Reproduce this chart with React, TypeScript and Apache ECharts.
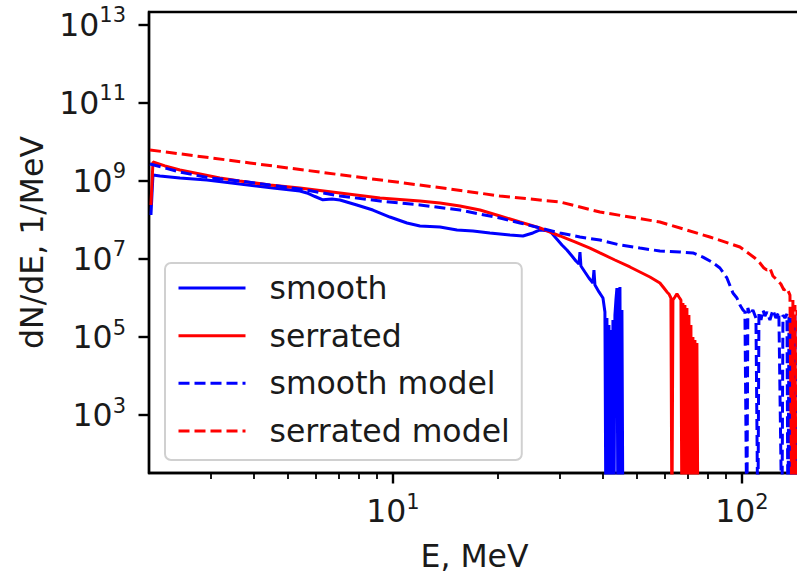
import React, { useEffect, useRef } from 'react';
import * as echarts from 'echarts';

const FONT = 'DejaVu Sans';
const TEXT = '#1a1a1a';

// E, MeV (x) and dN/dE, 1/MeV (y); a value of 1 marks an empty bin that falls below the axis
const smoothE = [2.026, 2.053, 2.15, 2.453, 2.93, 3.64, 4.53, 5.41, 5.67, 5.98, 6.30, 6.69, 7.05, 7.88, 8.76, 9.80, 10.97, 11.95, 13.64, 15.26, 16.96, 18.96, 21.64, 23.58, 25.18, 26.38, 28.18, 29.31, 30.50, 31.52, 32.58, 33.45, 34.12, 34.35, 34.57, 35.49, 36.44, 37.42, 37.67, 37.92, 38.94, 39.98, 40.50, 40.77, 41.04, 41.31, 41.59, 41.86, 42.14, 42.42, 42.70, 42.98, 43.26, 43.55, 43.84, 44.13, 44.42, 44.72, 45.01, 45.31, 45.61];
const smoothN = [1.34e8, 1.43e9, 1.34e9, 1.19e9, 1.06e9, 8.38e8, 6.62e8, 5.55e8, 4.92e8, 4.0e8, 3.3e8, 3.45e8, 3.26e8, 2.43e8, 1.80e8, 1.19e8, 8.38e7, 7.02e7, 6.62e7, 5.55e7, 5.22e7, 4.64e7, 4.12e7, 3.89e7, 4.64e7, 5.55e7, 5.22e7, 3.45e7, 2.29e7, 1.70e7, 1.19e7, 8.89e6, 7.44e6, 1.51e7, 6.62e6, 4.64e6, 3.26e6, 2.43e6, 5.22e6, 2.15e6, 1.43e6, 1.0e6, 4.38e5, 1, 3.07e5, 1, 2.03e5, 1, 1.51e5, 1, 2.73e5, 1, 3.66e5, 8.89e5, 1.80e6, 1, 8.89e5, 1.91e6, 1, 4.92e5, 1];

const serratedE = [2.026, 2.053, 2.222, 2.453, 2.80, 3.19, 3.64, 4.44, 5.41, 7.05, 9.18, 11.95, 13.64, 15.56, 17.76, 20.26, 23.12, 26.38, 28.18, 30.10, 33.23, 36.69, 39.19, 43.26, 47.77, 51.03, 54.50, 56.33, 58.21, 59.77, 60.97, 61.78, 62.60, 63.01, 63.43, 64.27, 65.13, 66.00, 66.87, 67.31, 67.76, 68.21, 68.66, 69.11, 69.57, 70.03, 70.49, 70.96, 71.43, 71.90, 72.38, 72.86, 73.34, 73.82, 74.31, 74.80];
const serratedN = [2.43e8, 3.07e9, 2.43e9, 1.91e9, 1.51e9, 1.19e9, 1.0e9, 7.89e8, 6.62e8, 4.92e8, 3.66e8, 3.07e8, 2.73e8, 2.29e8, 1.80e8, 1.27e8, 8.89e7, 6.24e7, 4.92e7, 3.89e7, 2.73e7, 1.91e7, 1.43e7, 9.42e6, 6.24e6, 4.64e6, 3.45e6, 2.90e6, 2.43e6, 1.80e6, 1.43e6, 1.27e6, 1.0e6, 1, 8.89e5, 1.06e6, 1.27e6, 1.06e6, 8.89e5, 1, 7.44e5, 1, 6.62e5, 1, 5.55e5, 1, 3.66e5, 1, 2.03e5, 1, 1.0e5, 1, 8.38e4, 1, 7.02e4, 1];

const smoothModelE = [2.013, 2.453, 2.99, 3.64, 4.44, 5.41, 7.05, 9.18, 11.95, 15.56, 20.26, 23.12, 26.38, 30.10, 34.35, 39.19, 44.72, 51.03, 58.21, 66.42, 72.38, 77.31, 82.0, 86.50, 90.58, 94.24, 96.76, 98.70, 100.7, 102.0, 103.3, 104.0, 105.4, 107.5, 109.7, 111.1, 111.9, 113.4, 114.9, 116.4, 117.9, 120.3, 122.7, 125.1, 127.6, 130.2, 131.1, 132.8, 134.6, 135.5, 136.4, 138.2, 139.1, 140.9, 141.9, 143.8];
const smoothModelN = [2.73e9, 1.70e9, 1.19e9, 1.0e9, 7.89e8, 6.24e8, 4.12e8, 3.07e8, 2.43e8, 1.80e8, 1.12e8, 8.38e7, 6.24e7, 4.64e7, 3.66e7, 3.07e7, 2.29e7, 1.91e7, 1.60e7, 1.51e7, 1.43e7, 1.12e7, 8.37e6, 5.88e6, 3.26e6, 1.34e6, 1.0e6, 6.62e5, 4.92e5, 4.38e5, 1, 5.55e5, 3.66e5, 4.92e5, 3.07e5, 1, 4.38e5, 2.73e5, 4.92e5, 3.45e5, 4.38e5, 2.73e5, 4.92e5, 3.07e5, 4.38e5, 1, 3.66e5, 3.07e5, 3.89e5, 1, 3.45e5, 1, 3.07e5, 1, 3.66e5, 1];

const serratedModelE = [2.013, 3.89, 7.53, 14.57, 20.26, 30.10, 39.19, 58.21, 80.95, 98.70, 103.3, 108.9, 112.6, 115.6, 117.9, 120.3, 122.7, 126.0, 129.3, 131.9, 134.6, 137.3, 139.1, 140.0, 140.9, 141.9, 142.8, 143.8];
const serratedModelN = [6.24e9, 2.90e9, 1.34e9, 6.24e8, 4.12e8, 2.90e8, 1.60e8, 8.89e7, 3.66e7, 2.03e7, 1.51e7, 1.06e7, 7.89e6, 5.88e6, 5.22e6, 5.88e6, 3.66e6, 2.90e6, 2.29e6, 1.60e6, 1.80e6, 1.19e6, 1, 8.89e5, 1, 6.62e5, 1, 4.92e5];

const seriesNames = ['smooth', 'serrated', 'smooth model', 'serrated model'];

const X_MIN = 2.0;
const X_MAX = 146.7;
const Y_MIN = 32.6;
const Y_MAX = 2.15e13;
const xMajorTicks = [10, 100];
const xMinorTicks = [3, 4, 5, 6, 7, 8, 9, 20, 30, 40, 50, 60, 70, 80, 90];
const yMajorTicks = [1e3, 1e5, 1e7, 1e9, 1e11, 1e13];

const pairs = (xs: number[], ys: number[]) => xs.map((x, i) => [x, ys[i]]);
const supLabel = (v: number) => `{b|10}{s|${Math.round(Math.log10(v))}}`;
const rich = {
  b: { fontFamily: FONT, fontSize: 31.5, lineHeight: 40, color: TEXT },
  s: { fontFamily: FONT, fontSize: 21, lineHeight: 21, verticalAlign: 'top', color: TEXT },
};
const spine = { color: '#000', width: 2.4 };

export default function App() {
  const ref = useRef<HTMLDivElement>(null);
  useEffect(() => {
    if (!ref.current) return;
    const chart = echarts.init(ref.current, null, { renderer: 'svg' });
    const mk = (name: string, xs: number[], ys: number[], color: string, dashed: boolean) => ({
      name,
      type: 'line',
      data: pairs(xs, ys),
      symbol: 'none',
      showSymbol: false,
      clip: true,
      lineStyle: { color, width: 3, type: dashed ? [11, 5] : 'solid' },
      itemStyle: { color },
    });
    chart.setOption({
      animation: false,
      backgroundColor: '#fff',
      grid: {
        left: 149, right: -3, top: 12, bottom: 101,
        show: true, borderColor: '#000', borderWidth: 2.4,
        containLabel: false, outerBoundsMode: 'none',
      },
      legend: {
        orient: 'vertical', left: 165, top: 263,
        padding: [9, 12, 13, 12],
        itemWidth: 67, itemHeight: 14, itemGap: 15.67,
        backgroundColor: 'rgba(255,255,255,0.8)',
        borderColor: '#d0d0d0', borderWidth: 2, borderRadius: 6,
        itemStyle: { opacity: 0 },
        lineStyle: { width: 3 },
        textStyle: { fontFamily: FONT, fontSize: 31.5, lineHeight: 32, color: TEXT, padding: [0, 0, 0, 19] },
        data: seriesNames,
      },
      xAxis: [
        {
          type: 'log', logBase: 10, min: X_MIN, max: X_MAX, position: 'bottom',
          axisLine: { show: true, onZero: false, lineStyle: spine },
          axisTick: { show: true, length: 10.5, lineStyle: spine, customValues: xMajorTicks },
          axisLabel: { customValues: xMajorTicks, formatter: supLabel, margin: 18, rich },
          splitLine: { show: false },
          name: 'E, MeV', nameLocation: 'middle', nameGap: 67,
          nameTextStyle: { fontFamily: FONT, fontSize: 31.5, color: TEXT },
        },
        {
          type: 'log', logBase: 10, min: X_MIN, max: X_MAX, position: 'bottom',
          axisLine: { show: false },
          axisTick: { show: true, length: 6, lineStyle: { color: '#000', width: 1.8 }, customValues: xMinorTicks },
          axisLabel: { show: false },
          splitLine: { show: false },
        },
      ],
      yAxis: {
        type: 'log', logBase: 10, min: Y_MIN, max: Y_MAX,
        axisLine: { show: true, onZero: false, lineStyle: spine },
        axisTick: { show: true, length: 10.5, lineStyle: spine, customValues: yMajorTicks },
        axisLabel: { customValues: yMajorTicks, formatter: supLabel, margin: 23, rich },
        splitLine: { show: false },
        name: 'dN/dE, 1/MeV', nameLocation: 'middle', nameGap: 100,
        nameTextStyle: { fontFamily: FONT, fontSize: 31.5, color: TEXT },
      },
      series: [
        mk(seriesNames[0], smoothE, smoothN, '#0000ff', false),
        mk(seriesNames[1], serratedE, serratedN, '#ff0000', false),
        mk(seriesNames[2], smoothModelE, smoothModelN, '#0000ff', true),
        mk(seriesNames[3], serratedModelE, serratedModelN, '#ff0000', true),
      ],
    });
    return () => chart.dispose();
  }, []);
  return <div ref={ref} style={{ position: 'fixed', left: 0, top: 0, width: 797, height: 574 }} />;
}
